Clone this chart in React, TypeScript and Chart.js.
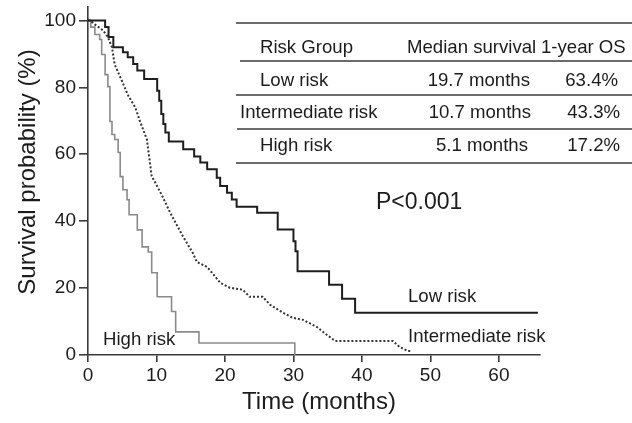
import React, { useEffect, useRef } from "react";
import { Chart, registerables } from "chart.js";

Chart.register(...registerables);

// ---- data (months, survival %) ----
const lowRiskTime = [0, 2.5, 3.0, 3.7, 5.1, 5.8, 6.6, 7.2, 8.2, 10.1, 10.4, 10.7, 11.0, 11.3, 11.8, 13.9, 15.5, 16.4, 17.4, 18.8, 19.3, 20.3, 21.0, 21.7, 24.7, 27.7, 30.0, 30.3, 30.6, 35.2, 37.1, 39.0, 65.7];
const lowRiskSurv = [100, 98, 95, 92, 90.5, 89, 87, 85, 82.5, 79, 76, 72, 69, 66.5, 63.8, 61.5, 59.3, 57.5, 55.5, 53, 50.5, 48.5, 46.5, 44.3, 42.5, 37.5, 34, 31, 25, 21, 16.8, 12.6, 12.6];

const interRiskTime = [0, 0.3, 1.0, 2.2, 2.9, 3.5, 3.9, 5.0, 5.8, 6.9, 7.6, 8.6, 9.3, 10.9, 12.0, 13.9, 15.3, 15.9, 17.4, 18.1, 19.3, 20.7, 22.6, 23.6, 25.5, 26.6, 28.5, 29.9, 31.4, 33.4, 34.9, 36.1, 44.5, 45.5, 46.7, 47.3];
const interRiskSurv = [100, 100, 98.8, 97, 95, 92, 86.8, 81.7, 77.8, 74, 69.8, 64.4, 53.5, 47.3, 42.5, 35.3, 30.5, 27.8, 26.3, 24.6, 21.6, 20.1, 19.5, 17.4, 17.4, 15, 12.6, 11.1, 10.5, 8.4, 6, 4.2, 4.2, 2.4, 1.2, 1.2];

const highRiskTime = [0, 0.4, 1.0, 1.7, 2.0, 2.5, 2.9, 3.2, 3.5, 3.9, 4.4, 4.7, 5.1, 5.7, 6.0, 7.2, 7.9, 8.8, 9.3, 10.1, 12.2, 12.8, 16.2, 30.2];
const highRiskSurv = [100, 98, 95.8, 94.3, 89.8, 83.8, 80.2, 69.8, 65.9, 64.4, 60.5, 53.3, 49.4, 46.4, 41.9, 37.4, 32.3, 30.8, 24.6, 17.4, 13, 6.9, 3.6, 0];

const xTicks = [0, 10, 20, 30, 40, 50, 60];
const yTicks = [0, 20, 40, 60, 80, 100];

const tableHeader = ["Risk Group", "Median survival", "1-year OS"];
const tableGroups = ["Low risk", "Intermediate risk", "High risk"];
const tableMedians = ["19.7 months", "10.7 months", "5.1 months"];
const tableOneYear = ["63.4%", "43.3%", "17.2%"];

const curveLabels = ["Low risk", "Intermediate risk", "High risk"];
const pValueText = "P<0.001";
const xTitle = "Time (months)";
const yTitle = "Survival probability (%)";

const FONT = "'Liberation Sans', Arial, Helvetica, sans-serif";
const TEXT = "#1c1c1c";

function toPoints(t: number[], s: number[]) {
  return t.map((x, i) => ({ x, y: s[i] }));
}

const overlayPlugin = {
  id: "overlay",
  afterDraw(chart: any) {
    const ctx = chart.ctx as CanvasRenderingContext2D;
    ctx.save();
    // table rules
    ctx.strokeStyle = "#3a3a3a";
    ctx.lineWidth = 1.6;
    const rules: [number, number][] = [
      [23, 236], [61, 240], [95, 236], [129, 237], [163, 236],
    ];
    rules.forEach(([y, x0]) => {
      ctx.beginPath();
      ctx.moveTo(x0, y);
      ctx.lineTo(632, y);
      ctx.stroke();
    });
    ctx.fillStyle = TEXT;
    ctx.textBaseline = "middle";
    ctx.font = `18.6px ${FONT}`;
    // header
    ctx.textAlign = "left";
    ctx.fillText(tableHeader[0], 260, 48);
    ctx.fillText(tableHeader[1], 407, 48);
    ctx.fillText(tableHeader[2], 541, 48);
    const rowY = [81, 113, 146];
    const groupX = [260, 240, 260];
    const medRight = [530, 531, 528];
    const osRight = [618, 620, 620];
    rowY.forEach((y, i) => {
      ctx.textAlign = "left";
      ctx.fillText(tableGroups[i], groupX[i], y);
      ctx.textAlign = "right";
      ctx.fillText(tableMedians[i], medRight[i], y);
      ctx.fillText(tableOneYear[i], osRight[i], y);
    });
    // curve labels
    ctx.textAlign = "left";
    ctx.fillText(curveLabels[0], 408, 297);
    ctx.fillText(curveLabels[1], 408, 337);
    ctx.fillText(curveLabels[2], 103, 340);
    // p value
    ctx.font = `23px ${FONT}`;
    ctx.fillText(pValueText, 376, 203);
    // axis titles
    ctx.font = `24px ${FONT}`;
    ctx.textAlign = "center";
    ctx.fillText(xTitle, 319, 402);
    ctx.save();
    ctx.translate(28, 172);
    ctx.rotate(-Math.PI / 2);
    ctx.fillText(yTitle, 0, 0);
    ctx.restore();
    ctx.restore();
  },
};

export default function App() {
  const ref = useRef<HTMLCanvasElement | null>(null);
  useEffect(() => {
    const canvas = ref.current;
    if (!canvas) return;
    const chart = new Chart(canvas, {
      type: "line",
      data: {
        datasets: [
          {
            label: curveLabels[0],
            data: toPoints(lowRiskTime, lowRiskSurv),
            borderColor: "#1e1e1e",
            borderWidth: 2,
            stepped: "before",
            pointRadius: 0,
            fill: false,
          },
          {
            label: curveLabels[1],
            data: toPoints(interRiskTime, interRiskSurv),
            borderColor: "#333333",
            borderWidth: 2,
            borderDash: [2, 2],
            pointRadius: 0,
            tension: 0,
            fill: false,
          },
          {
            label: curveLabels[2],
            data: toPoints(highRiskTime, highRiskSurv),
            borderColor: "#8a8a8a",
            borderWidth: 1.6,
            stepped: "before",
            pointRadius: 0,
            fill: false,
          },
        ],
      },
      options: {
        animation: false,
        responsive: false,
        devicePixelRatio: 1,
        layout: { padding: { left: 0, right: 92, top: 7, bottom: 0 } },
        plugins: {
          legend: { display: false },
          tooltip: { enabled: false },
          title: { display: false },
        },
        scales: {
          x: {
            type: "linear",
            min: 0,
            max: 66,
            border: { display: true, color: "#3a3a3a", width: 1.6 },
            grid: { display: true, drawOnChartArea: false, drawTicks: true, tickLength: 7, color: "#3a3a3a", lineWidth: 1.6 },
            ticks: {
              color: TEXT,
              font: { family: FONT, size: 19 },
              padding: 2,
              maxRotation: 0,
              autoSkip: false,
            },
            afterBuildTicks: (scale: any) => {
              scale.ticks = xTicks.map((v) => ({ value: v }));
            },
            afterFit: (scale: any) => {
              scale.height = 68;
              scale.paddingLeft = 0;
              scale.paddingRight = 0;
            },
          },
          y: {
            type: "linear",
            min: 0,
            max: 104,
            border: { display: true, color: "#3a3a3a", width: 1.6 },
            grid: { display: true, drawOnChartArea: false, drawTicks: true, tickLength: 9, color: "#3a3a3a", lineWidth: 1.6 },
            ticks: {
              color: TEXT,
              font: { family: FONT, size: 19 },
              padding: 3,
              autoSkip: false,
            },
            afterBuildTicks: (scale: any) => {
              scale.ticks = yTicks.map((v) => ({ value: v }));
            },
            afterFit: (scale: any) => {
              scale.width = 88;
              scale.paddingTop = 0;
              scale.paddingBottom = 0;
            },
          },
        },
      },
      plugins: [overlayPlugin],
    } as any);
    return () => chart.destroy();
  }, []);
  return (
    <div style={{ position: "absolute", left: 0, top: 0, width: 632, height: 423, background: "#fff" }}>
      <canvas ref={ref} width={632} height={423} style={{ display: "block" }} />
    </div>
  );
}
